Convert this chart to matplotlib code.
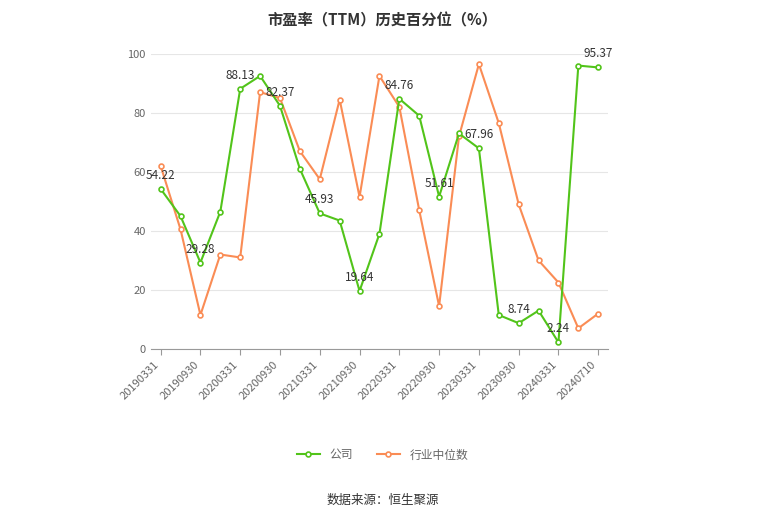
import matplotlib
matplotlib.use("Agg")
import matplotlib.pyplot as plt

plt.rcParams["font.family"] = ["Noto Sans CJK SC", "DejaVu Sans"]

dates = ["20190331","20190630","20190930","20191231","20200331","20200630","20200930","20201231",
         "20210331","20210630","20210930","20211231","20220331","20220630","20220930","20221231",
         "20230331","20230630","20230930","20231231","20240331","20240630","20240710"]
company = [54.22,45,29.28,46.5,88.13,92.5,82.37,61,45.93,43.5,19.64,39,84.76,79,51.61,73,67.96,
           11.5,8.74,13,2.24,96,95.37]
industry = [62,40.5,11.5,32,31,87,85,67,57.5,84.5,51.5,92.5,82,47,14.5,72,96.5,76.5,49,30,22.5,7,12]
labeled = [0,2,4,6,8,10,12,14,16,18,20,22]

fig = plt.figure(figsize=(7.65,5.17), dpi=100)
ax = fig.add_axes([0.197,0.325,0.598,0.571])
x = list(range(len(dates)))
green = "#52c41a"; orange = "#fa8c55"
l2, = ax.plot(x, industry, color=orange, lw=1.5, marker="o", ms=3.5, mfc="white", mec=orange, mew=1.2, label="行业中位数", zorder=2)
l1, = ax.plot(x, company, color=green, lw=1.5, marker="o", ms=3.5, mfc="white", mec=green, mew=1.2, label="公司", zorder=3)
for i in labeled:
    ax.annotate(f"{company[i]:.2f}", (i, company[i]), xytext=(0,5), textcoords="offset points",
                ha="center", va="bottom", fontsize=8.5, color="#333333")
ax.set_xlim(-0.5, len(dates)-0.5)
ax.set_ylim(0,100)
ax.set_yticks([0,20,40,60,80,100])
ax.grid(axis="y", color="#e6e6e6", lw=0.8)
ax.set_axisbelow(True)
ax.set_xticks(labeled)
ax.set_xticklabels([dates[i] for i in labeled], rotation=45, ha="right", fontsize=8, color="#666666")
ax.tick_params(axis="y", length=0, labelsize=8, colors="#666666")
ax.tick_params(axis="x", length=4, color="#999999")
for s in ["top","right","left"]:
    ax.spines[s].set_visible(False)
ax.spines["bottom"].set_color("#999999")
fig.text(0.5, 0.975, "市盈率（TTM）历史百分位（%）", ha="center", va="top", fontsize=11, fontweight="bold", color="#333333")
fig.legend(handles=[l1, l2], loc="center", bbox_to_anchor=(0.5, 0.12), ncol=2, frameon=False, fontsize=8.5, labelcolor="#666666")
fig.text(0.5, 0.033, "数据来源：恒生聚源", ha="center", va="center", fontsize=9, color="#333333")
fig.savefig("out.png", dpi=100)
